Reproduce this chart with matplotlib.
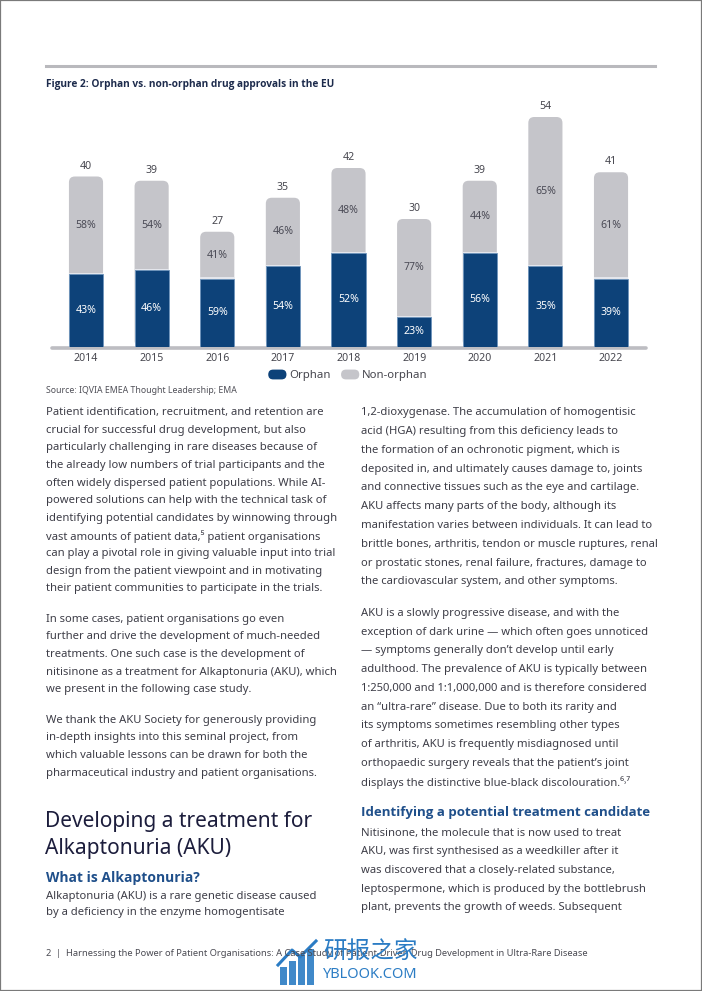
import os
import matplotlib
matplotlib.use("Agg")
import matplotlib.pyplot as plt
from matplotlib import font_manager
from matplotlib.patches import FancyBboxPatch, Rectangle, Patch
from matplotlib.legend_handler import HandlerPatch
from matplotlib.lines import Line2D

# ---------------- data ----------------
years = ["2014", "2015", "2016", "2017", "2018", "2019", "2020", "2021", "2022"]
orphan = [17, 18, 16, 19, 22, 7, 22, 19, 16]
non_orphan = [23, 21, 11, 16, 20, 23, 17, 35, 25]
totals = [40, 39, 27, 35, 42, 30, 39, 54, 41]
orphan_pct = ["43%", "46%", "59%", "54%", "52%", "23%", "56%", "35%", "39%"]
non_orphan_pct = ["58%", "54%", "41%", "46%", "48%", "77%", "44%", "65%", "61%"]
series_names = ["Orphan", "Non-orphan"]

BLUE = "#0d4279"
GREY = "#c5c5ca"
TXT = "#3d3d47"
HEAD_BLUE = "#1f4f8a"

W, H = 702, 991
plt.rcParams["font.family"] = ["Noto Sans", "DejaVu Sans"]
fig = plt.figure(figsize=(W / 100, H / 100), dpi=100)
fig.patch.set_facecolor("white")


def bold_family():
    for fam in ["Noto Sans", "Open Sans", "Lato", "Roboto", "Liberation Sans"]:
        try:
            path = font_manager.findfont(font_manager.FontProperties(family=fam, weight="bold"),
                                         fallback_to_default=False)
            name = os.path.basename(path).lower()
            if "bold" in name or "black" in name or "semibold" in name:
                return fam
        except Exception:
            pass
    return "DejaVu Sans"


BOLD = bold_family()
renderer = fig.canvas.get_renderer()


def fit_size(text, target_px, family="Noto Sans", weight="normal", base=10):
    t = fig.text(0, 0, text, fontsize=base, family=family, weight=weight)
    w = t.get_window_extent(renderer=renderer).width
    t.remove()
    return base * target_px / w


def fx(px):
    return px / W


def fy(py):
    return 1 - py / H


# ---------------- page decorations ----------------
fig.add_artist(Line2D([fx(46), fx(655)], [fy(66), fy(66)], color="#b9b9bd", lw=2.2))
fig.add_artist(Rectangle((0, 0), 1, 1, transform=fig.transFigure, fill=False,
                         ec="#7a7a7a", lw=1.6))

title = "Figure 2: Orphan vs. non-orphan drug approvals in the EU"
fig.text(fx(46), fy(85), title, family=BOLD, weight="bold", color="#1d2b4c",
         fontsize=7.3, va="center", ha="left")

# ---------------- chart ----------------
ax_l, ax_r = 52, 646
ax_bottom_px, px_per_unit = 346.5, 4.25
ymax = 56
ax = fig.add_axes([fx(ax_l), fy(ax_bottom_px), fx(ax_r - ax_l), ymax * px_per_unit / H])
ax.set_xlim(-0.518, 8.533)
ax.set_ylim(0, ymax)
ax.axis("off")

x = list(range(len(years)))
bw = 0.52
unit_ratio = 65.625 / px_per_unit

for i in x:
    p = FancyBboxPatch((i - bw / 2, 0), bw, totals[i],
                       boxstyle="round,pad=0,rounding_size=0.09",
                       mutation_aspect=unit_ratio, fc=GREY, ec="none", zorder=2)
    ax.add_patch(p)
ax.bar(x, orphan, width=bw, color=BLUE, edgecolor="#6f95bd", linewidth=0.6, zorder=3)
ax.bar(x, [0.25] * len(x), bottom=orphan, width=bw, color="#e4e6ec", zorder=3.5, linewidth=0)

for i in x:
    ax.annotate(str(totals[i]), (i, totals[i]), xytext=(0, 3.5), textcoords="offset points",
                ha="center", va="bottom", fontsize=7.6, color="#46464e")
    ax.text(i, orphan[i] / 2, orphan_pct[i], ha="center", va="center", fontsize=7.6,
            color="white", zorder=5)
    ax.text(i, orphan[i] + non_orphan[i] / 2, non_orphan_pct[i], ha="center", va="center",
            fontsize=7.6, color="#4a4a55", zorder=5)
    ax.text(i, -2.9, years[i], ha="center", va="center", fontsize=7.6, color="#46464e")

ax.add_artist(Line2D([-0.518, 8.533], [-0.35, -0.35], color="#bdbdc2", lw=2.6,
                     solid_capstyle="round", zorder=1, clip_on=False))


class PillHandler(HandlerPatch):
    def create_artists(self, legend, orig_handle, xdescent, ydescent, width, height,
                       fontsize, trans):
        p = FancyBboxPatch((-xdescent, -ydescent), width, height,
                           boxstyle="round,pad=0,rounding_size=%f" % (height / 2),
                           fc=orig_handle.get_facecolor(), ec="none", transform=trans)
        return [p]


handles = [Patch(fc=BLUE), Patch(fc=GREY)]
leg = fig.legend(handles, series_names, loc="center", bbox_to_anchor=(fx(348), fy(375.5)),
                 ncol=2, frameon=False, fontsize=8.2, handlelength=1.6, handleheight=0.95,
                 handletextpad=0.25, columnspacing=0.9,
                 handler_map={Patch: PillHandler()})
for t in leg.get_texts():
    t.set_color("#46464e")

src = "Source: IQVIA EMEA Thought Leadership; EMA"
fig.text(fx(46), fy(391), src, color="#505058",
         fontsize=min(6.6, fit_size(src, 190)), va="center")

# ---------------- body text ----------------
left_p1 = [
    "Patient identification, recruitment, and retention are",
    "crucial for successful drug development, but also",
    "particularly challenging in rare diseases because of",
    "the already low numbers of trial participants and the",
    "often widely dispersed patient populations. While AI-",
    "powered solutions can help with the technical task of",
    "identifying potential candidates by winnowing through",
    "vast amounts of patient data,\u2075 patient organisations",
    "can play a pivotal role in giving valuable input into trial",
    "design from the patient viewpoint and in motivating",
    "their patient communities to participate in the trials.",
]
left_p2 = [
    "In some cases, patient organisations go even",
    "further and drive the development of much-needed",
    "treatments. One such case is the development of",
    "nitisinone as a treatment for Alkaptonuria (AKU), which",
    "we present in the following case study.",
]
left_p3 = [
    "We thank the AKU Society for generously providing",
    "in-depth insights into this seminal project, from",
    "which valuable lessons can be drawn for both the",
    "pharmaceutical industry and patient organisations.",
]
left_p4 = [
    "Alkaptonuria (AKU) is a rare genetic disease caused",
    "by a deficiency in the enzyme homogentisate",
]
right_p1 = [
    "1,2-dioxygenase. The accumulation of homogentisic",
    "acid (HGA) resulting from this deficiency leads to",
    "the formation of an ochronotic pigment, which is",
    "deposited in, and ultimately causes damage to, joints",
    "and connective tissues such as the eye and cartilage.",
    "AKU affects many parts of the body, although its",
    "manifestation varies between individuals. It can lead to",
    "brittle bones, arthritis, tendon or muscle ruptures, renal",
    "or prostatic stones, renal failure, fractures, damage to",
    "the cardiovascular system, and other symptoms.",
]
right_p2 = [
    "AKU is a slowly progressive disease, and with the",
    "exception of dark urine \u2014 which often goes unnoticed",
    "\u2014 symptoms generally don\u2019t develop until early",
    "adulthood. The prevalence of AKU is typically between",
    "1:250,000 and 1:1,000,000 and is therefore considered",
    "an \u201cultra-rare\u201d disease. Due to both its rarity and",
    "its symptoms sometimes resembling other types",
    "of arthritis, AKU is frequently misdiagnosed until",
    "orthopaedic surgery reveals that the patient\u2019s joint",
    "displays the distinctive blue-black discolouration.\u2076\u02d2\u2077",
]
right_p3 = [
    "Nitisinone, the molecule that is now used to treat",
    "AKU, was first synthesised as a weedkiller after it",
    "was discovered that a closely-related substance,",
    "leptospermone, which is produced by the bottlebrush",
    "plant, prevents the growth of weeds. Subsequent",
]

body_fs = fit_size(left_p1[0], 276)


def para(lines, x_px, y0, dy, fs=body_fs, color=TXT):
    for k, line in enumerate(lines):
        fig.text(fx(x_px), fy(y0 + k * dy), line, fontsize=fs, color=color,
                 va="center", ha="left", family=["Noto Sans", "DejaVu Sans"])


para(left_p1, 46, 412.7, 17.63)
para(left_p2, 46, 619.3, 17.6)
para(left_p3, 46, 720.0, 17.9)
para(left_p4, 46, 896.0, 16.2)

para(right_p1, 361.5, 412.7, 18.81)
para(right_p2, 361.5, 613.3, 18.78)
para(right_p3, 361.5, 833.3, 18.6)

h1 = ["Developing a treatment for", "Alkaptonuria (AKU)"]
h1_fs = fit_size(h1[0], 267)
for k, line in enumerate(h1):
    fig.text(fx(45), fy(822 + k * 26.5), line, fontsize=h1_fs, color="#1c1d3c",
             va="center", ha="left")

sub1 = "What is Alkaptonuria?"
fig.text(fx(46), fy(878), sub1, family=BOLD, fontsize=fit_size(sub1, 154, BOLD, "bold"),
         weight="bold", color=HEAD_BLUE, va="center")
sub2 = "Identifying a potential treatment candidate"
fig.text(fx(361.5), fy(812.5), sub2, family=BOLD, fontsize=fit_size(sub2, 291, BOLD, "bold"),
         weight="bold", color=HEAD_BLUE, va="center")

foot = ("2  |  Harnessing the Power of Patient Organisations: A Case Study of "
        "Patient-Driven Drug Development in Ultra-Rare Disease")
fig.text(fx(46), fy(954), foot, fontsize=fit_size(foot, 542), color="#4a4a52", va="center")

# ---------------- watermark ----------------
WM = "#2b7cc4"
for bx, bh in [(280, 18), (289, 24), (298, 30), (307, 36)]:
    fig.add_artist(Rectangle((fx(bx), fy(985)), fx(7), bh / H, transform=fig.transFigure,
                             fc=WM, ec="none", alpha=0.9))
fig.add_artist(Line2D([fx(278), fx(292), fx(300), fx(316)], [fy(965), fy(950), fy(957), fy(941)],
                      color=WM, lw=2.2))
fig.text(fx(323), fy(951), "研报之家", family=["Noto Sans CJK SC", "DejaVu Sans"],
         fontsize=17, color=WM, va="center", ha="left")
fig.text(fx(323), fy(975), "YBLOOK.COM", fontsize=10.5, color=WM, va="center", ha="left")

fig.savefig("out.png", dpi=100, facecolor="white")
